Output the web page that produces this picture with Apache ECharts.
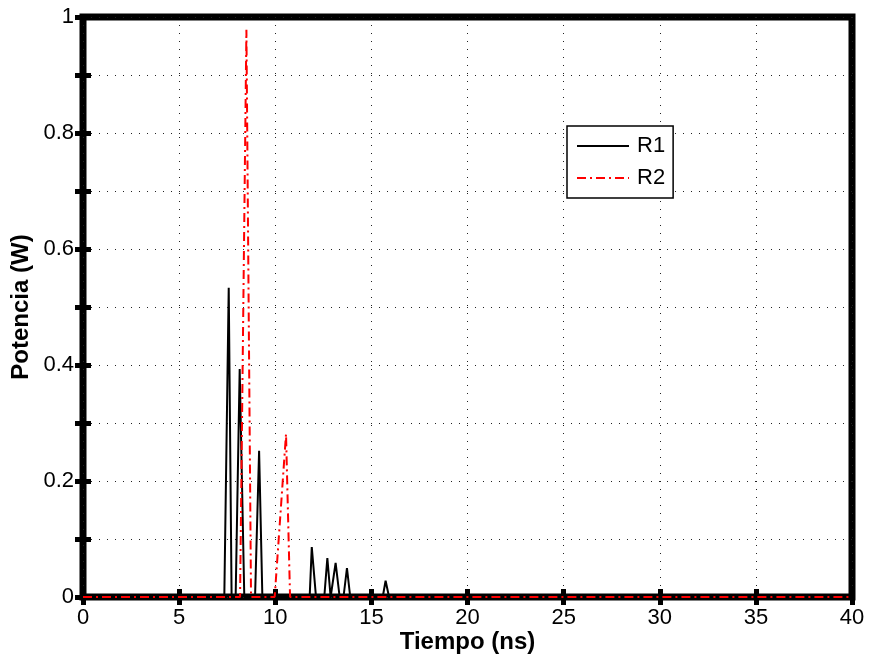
<!DOCTYPE html>
<html>
<head>
<meta charset="utf-8">
<script src="https://cdn.jsdelivr.net/npm/echarts@6/dist/echarts.min.js"></script>
<style>
html,body{margin:0;padding:0;background:#fff;}
#chart{width:869px;height:658px;}
</style>
</head>
<body>
<div id="chart"></div>
<script>
// Time (ns) and power (W) readings for each series
const r1Time  = [0, 7.35, 7.58, 7.73, 7.94, 8.15, 8.39, 8.95, 9.16, 9.33, 11.79, 11.90, 12.12, 12.55, 12.71, 12.88, 12.93, 13.14, 13.35, 13.55, 13.73, 13.90, 15.59, 15.74, 15.92, 40];
const r1Power = [0, 0,    0.533,0,    0,    0.393,0,    0,    0.252,0,    0,     0.086, 0,     0,     0.067, 0,     0,     0.059, 0,     0,     0.050, 0,     0,     0.028, 0,     0];
const r2Time  = [0, 8.17, 8.50, 8.74, 9.97, 10.56, 10.77, 40];
const r2Power = [0, 0,    0.978,0,    0,    0.281, 0,     0];
const seriesNames = ['R1', 'R2'];
const xTicks = [0, 5, 10, 15, 20, 25, 30, 35, 40];
const yTickLabels = ['0', '0.2', '0.4', '0.6', '0.8', '1'];

const pairs = (xs, ys) => xs.map((x, i) => [x, ys[i]]);
const font = 'Liberation Sans, Arial, Helvetica, sans-serif';

const chart = echarts.init(document.getElementById('chart'));
const dotted = { show: true, lineStyle: { color: '#222', width: 1, type: [1, 7] } };
const tickStyle = { show: true, inside: true, length: 8, lineStyle: { color: '#000', width: 5 } };

chart.setOption({
  animation: false,
  backgroundColor: '#fff',
  grid: { left: 83, right: 17, top: 17, bottom: 61, show: true, borderColor: '#000', borderWidth: 7,
          backgroundColor: '#fff', outerBoundsMode: 'none', containLabel: false },
  legend: {
    data: seriesNames,
    orient: 'vertical',
    left: 567, top: 126,
    backgroundColor: '#fff',
    borderColor: '#000', borderWidth: 1.5, borderRadius: 0,
    padding: [9, 8, 9, 9],
    itemWidth: 52, itemHeight: 14, itemGap: 10,
    itemStyle: { opacity: 0 },
    textStyle: { fontSize: 22, color: '#000', fontFamily: font, padding: [0, 0, 0, 3] }
  },
  xAxis: [{
    type: 'value', min: 0, max: 40, interval: 5,
    name: 'Tiempo (ns)', nameLocation: 'middle', nameGap: 33, nameMoveOverlap: false,
    nameTextStyle: { fontSize: 24, fontWeight: 'bold', color: '#000', fontFamily: font },
    axisLine: { show: false },
    axisTick: tickStyle,
    axisLabel: { fontSize: 22, color: '#000', margin: 10, fontFamily: font,
      formatter: v => xTicks.includes(v) ? String(v) : '' },
    splitLine: dotted
  }, {
    type: 'value', min: 0, max: 40, interval: 5, position: 'top',
    axisLine: { show: false }, axisTick: tickStyle, axisLabel: { show: false }, splitLine: { show: false }
  }],
  yAxis: [{
    type: 'value', min: 0, max: 1, interval: 0.1,
    name: 'Potencia (W)', nameLocation: 'middle', nameGap: 50, nameMoveOverlap: false,
    nameTextStyle: { fontSize: 24, fontWeight: 'bold', color: '#000', fontFamily: font },
    axisLine: { show: false },
    axisTick: tickStyle,
    axisLabel: { fontSize: 22, color: '#000', margin: 9, fontFamily: font,
      formatter: v => { const s = String(Math.round(v * 10) / 10); return yTickLabels.includes(s) ? s : ''; } },
    splitLine: dotted
  }, {
    type: 'value', min: 0, max: 1, interval: 0.1, position: 'right',
    axisLine: { show: false }, axisTick: tickStyle, axisLabel: { show: false }, splitLine: { show: false }
  }],
  series: [{
    name: seriesNames[0], type: 'line', data: pairs(r1Time, r1Power),
    symbol: 'none', z: 3, color: '#000',
    lineStyle: { color: '#000', width: 2 }
  }, {
    name: seriesNames[1], type: 'line', data: pairs(r2Time, r2Power),
    symbol: 'none', z: 4, color: '#f00',
    lineStyle: { color: '#f00', width: 2, type: [9, 4, 2, 4] }
  }]
});
</script>
</body>
</html>
